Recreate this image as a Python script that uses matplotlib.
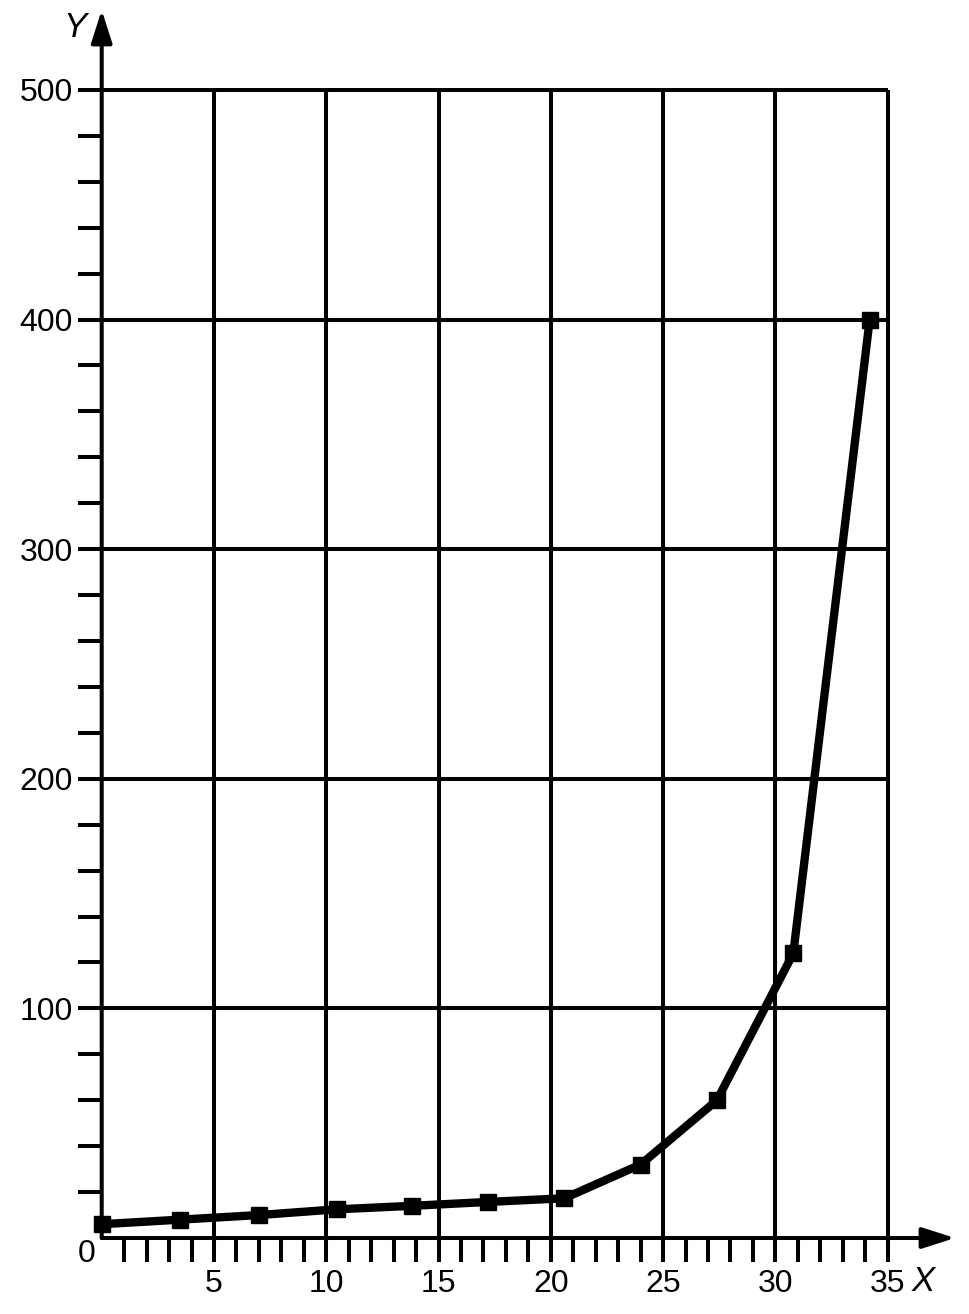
import matplotlib
matplotlib.use("Agg")
import matplotlib.pyplot as plt

plt.rcParams["font.family"] = ["Liberation Sans", "DejaVu Sans"]

# data
x_vals = [0, 3.5, 7.0, 10.5, 13.8, 17.2, 20.6, 24.0, 27.4, 30.8, 34.2]
y_vals = [6, 8, 10, 12.5, 14, 15.7, 17.3, 32, 60, 124, 400]

x_major = [5, 10, 15, 20, 25, 30, 35]
x_minor = [v for v in range(1, 36) if v % 5]
y_major = [100, 200, 300, 400, 500]
y_minor = [v for v in range(20, 501, 20) if v % 100]

X_TOP, Y_TOP = 38.0, 534.8   # arrow tips

fig = plt.figure(figsize=(9.7, 13.14), dpi=100)
ax = fig.add_axes([101.7 / 970, 1 - 1238 / 1314, (955 - 101.7) / 970, (1238 - 10) / 1314])
ax.set_xlim(0, X_TOP)
ax.set_ylim(0, Y_TOP)
for s in ax.spines.values():
    s.set_visible(False)

lw_grid = 2.9
ax.vlines(x_major, 0, 500, color="black", lw=lw_grid)
ax.hlines(y_major, 0, 35, color="black", lw=lw_grid)

# axes with arrows
arrow = dict(arrowstyle="-|>,head_length=1.0,head_width=0.32", mutation_scale=20,
             lw=lw_grid, color="black", shrinkA=0, shrinkB=0)
ax.annotate("", xy=(0, Y_TOP), xytext=(0, 0), arrowprops=arrow, annotation_clip=False)
ax.annotate("", xy=(X_TOP, 0), xytext=(0, 0), arrowprops=arrow, annotation_clip=False)

ax.set_xticks(x_major)
ax.set_xticks(x_minor, minor=True)
ax.set_yticks(y_major)
ax.set_yticks(y_minor, minor=True)
ax.set_xticklabels([str(v) for v in x_major])
ax.set_yticklabels([str(v) for v in y_major])
ax.tick_params(axis="both", which="both", direction="out", length=17, width=lw_grid,
               color="black", labelsize=23)
ax.tick_params(axis="x", which="major", pad=5)
ax.tick_params(axis="y", which="major", pad=4)

ax.plot(x_vals, y_vals, color="black", lw=6, marker="s", markersize=11.5,
        solid_joinstyle="miter", clip_on=False, zorder=5)

ax.text(-0.65, -7, "0", fontsize=23, ha="center", va="center")
ax.text(-1.19, 527, "Y", fontsize=25, style="italic", ha="center", va="center")
ax.text(36.6, -19, "X", fontsize=25, style="italic", ha="center", va="center")

fig.savefig("out.png", dpi=100)
